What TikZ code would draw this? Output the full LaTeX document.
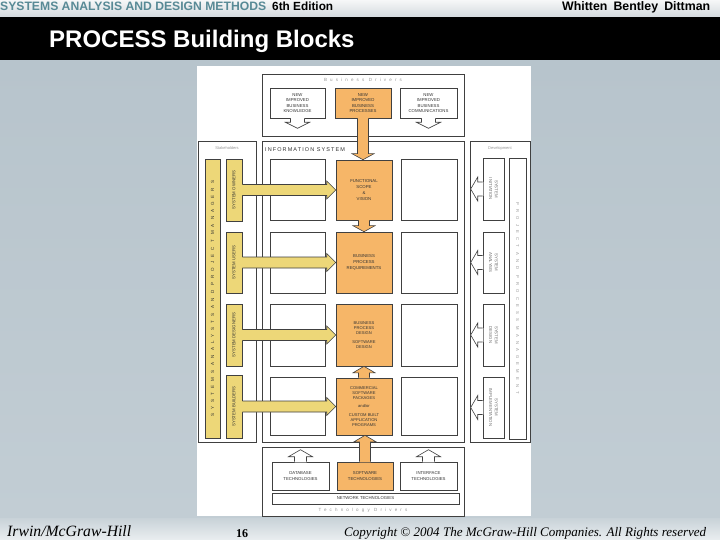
\documentclass[tikz,border=0pt]{standalone}
\usepackage{fontspec}
\setmainfont{Liberation Sans}
\newfontfamily\serifi{Liberation Serif}
\newfontfamily\widefont[LetterSpace=90]{Liberation Sans}
\newfontfamily\devfont[LetterSpace=100]{Liberation Sans}
\newfontfamily\isfont[LetterSpace=20]{Liberation Sans}
\newfontfamily\labfont[LetterSpace=70]{Liberation Sans}
\usetikzlibrary{calc,fit}
\definecolor{slidebg}{RGB}{183,196,204}
\definecolor{slidebot}{RGB}{194,205,212}
\definecolor{foottop}{RGB}{200,210,216}
\definecolor{footbot}{RGB}{234,238,240}
\definecolor{hdrtop}{RGB}{246,247,248}
\definecolor{hdrbot}{RGB}{212,218,222}
\definecolor{hdrteal}{RGB}{88,138,150}
\definecolor{orangebox}{RGB}{246,182,104}
\definecolor{yellowbox}{RGB}{237,215,120}
\definecolor{lineg}{RGB}{64,64,64}
\definecolor{darktxt}{RGB}{50,50,50}
\definecolor{greytxt}{RGB}{110,110,110}
\definecolor{lighttxt}{RGB}{150,150,150}

% yellow block arrow from node #1 (east) to node #2 (west)
\newcommand\yarrow[2]{%
  \coordinate (ya) at (#1.east);
  \coordinate (yt) at (#2.west |- #1.east);
  \fill[yellowbox] ($(ya)+(-0.6,-5.5)$) -- ($(yt)+(-9,-5.5)$) -- ($(yt)+(-9,-9)$) -- (yt)
     -- ($(yt)+(-9,9)$) -- ($(yt)+(-9,5.5)$) -- ($(ya)+(-0.6,5.5)$) -- cycle;
  \draw[outl] (ya)+(0,-5.5) -- ($(yt)+(-9,-5.5)$) -- ($(yt)+(-9,-9)$) -- (yt)
     -- ($(yt)+(-9,9)$) -- ($(yt)+(-9,5.5)$) -- ($(ya)+(0,5.5)$);}
% orange block arrow downwards from point #1 to tip #2
\newcommand\odown[2]{%
  \fill[orangebox] ($(#1)+(-5.5,-0.6)$) -- ($(#2)+(-5.5,-6)$) -- ($(#2)+(-11,-6)$) -- (#2)
     -- ($(#2)+(11,-6)$) -- ($(#2)+(5.5,-6)$) -- ($(#1)+(5.5,-0.6)$) -- cycle;
  \draw[outl] (#1)+(-5.5,0) -- ($(#2)+(-5.5,-6)$) -- ($(#2)+(-11,-6)$) -- (#2)
     -- ($(#2)+(11,-6)$) -- ($(#2)+(5.5,-6)$) -- ($(#1)+(5.5,0)$);}
% orange block arrow upwards from point #1 to tip #2
\newcommand\oup[2]{%
  \fill[orangebox] ($(#1)+(-5.5,0.6)$) -- ($(#2)+(-5.5,6.5)$) -- ($(#2)+(-11,6.5)$) -- (#2)
     -- ($(#2)+(11,6.5)$) -- ($(#2)+(5.5,6.5)$) -- ($(#1)+(5.5,0.6)$) -- cycle;
  \draw[outl] (#1)+(-5.5,0) -- ($(#2)+(-5.5,6.5)$) -- ($(#2)+(-11,6.5)$) -- (#2)
     -- ($(#2)+(11,6.5)$) -- ($(#2)+(5.5,6.5)$) -- ($(#1)+(5.5,0)$);}
% hollow arrows
\newcommand\hdown[1]{%
  \fill[white] ($(#1)+(-7,-0.6)$) -- ($(#1)+(-7,4)$) -- ($(#1)+(-12,4)$) -- ($(#1)+(0,10)$)
     -- ($(#1)+(12,4)$) -- ($(#1)+(7,4)$) -- ($(#1)+(7,-0.6)$) -- cycle;
  \draw[outl] (#1)+(-7,0) -- ($(#1)+(-7,4)$) -- ($(#1)+(-12,4)$) -- ($(#1)+(0,10)$)
     -- ($(#1)+(12,4)$) -- ($(#1)+(7,4)$) -- ($(#1)+(7,0)$);}
\newcommand\hup[1]{%
  \fill[white] ($(#1)+(-6,0.6)$) -- ($(#1)+(-6,-5)$) -- ($(#1)+(-12,-5)$) -- ($(#1)+(0,-12)$)
     -- ($(#1)+(12,-5)$) -- ($(#1)+(6,-5)$) -- ($(#1)+(6,0.6)$) -- cycle;
  \draw[outl] (#1)+(-6,0) -- ($(#1)+(-6,-5)$) -- ($(#1)+(-12,-5)$) -- ($(#1)+(0,-12)$)
     -- ($(#1)+(12,-5)$) -- ($(#1)+(6,-5)$) -- ($(#1)+(6,0)$);}
\newcommand\hleft[1]{%
  \fill[white] ($(#1)+(0.6,-7)$) -- ($(#1)+(-5,-7)$) -- ($(#1)+(-5,-12)$) -- ($(#1)+(-12,0)$)
     -- ($(#1)+(-5,12)$) -- ($(#1)+(-5,7)$) -- ($(#1)+(0.6,7)$) -- cycle;
  \draw[outl] (#1)+(0,-7) -- ($(#1)+(-5,-7)$) -- ($(#1)+(-5,-12)$) -- ($(#1)+(-12,0)$)
     -- ($(#1)+(-5,12)$) -- ($(#1)+(-5,7)$) -- ($(#1)+(0,7)$);}

\begin{document}
\begin{tikzpicture}[x=1pt,y=-1pt,
  outl/.style={draw=lineg,line width=0.6pt},
  wbox/.style={outl,fill=white,inner sep=0pt},
  obox/.style={wbox,fill=orangebox},
  ybox/.style={wbox,fill=yellowbox},
  intext/.style={font=\fontsize{4.3}{5.6}\selectfont,text=darktxt,align=center,inner sep=0pt},
  devtext/.style={intext,text=greytxt},
  lab/.style={font=\fontsize{4}{5}\selectfont,text=lighttxt,inner sep=0pt},
  spacedlab/.style={font={\labfont\fontsize{4.5}{5}\selectfont},text=lighttxt,inner sep=0pt}
]
\useasboundingbox (0,0) rectangle (720,540);
% slide background
\shade[top color=slidebg,bottom color=slidebot] (0,60) rectangle (720,518);
\shade[top color=foottop,bottom color=footbot] (0,518) rectangle (720,540);
\shade[top color=hdrtop,bottom color=hdrbot] (0,0) rectangle (720,17);
\fill[black] (0,17) rectangle (720,60);
% header texts
\node[anchor=base west,inner sep=0,text=hdrteal] (h1) at (0,11)
  {\resizebox{266pt}{!}{\bfseries SYSTEMS ANALYSIS AND DESIGN METHODS}};
\node[anchor=base west,inner sep=0] (h2) at (272,11) {\resizebox{61pt}{!}{\bfseries 6th Edition}};
\node[anchor=base west,inner sep=0] (h3) at (562,11) {\resizebox{148pt}{!}{\bfseries Whitten\enspace Bentley\enspace Dittman}};
\node[anchor=base west,inner sep=0,text=white,font=\bfseries\fontsize{24}{24}\selectfont] (title) at (49,48) {PROCESS Building Blocks};
% footer
\node[anchor=base west,inner sep=0] (f1) at (7,536) {\resizebox{124pt}{!}{\serifi\itshape Irwin/McGraw-Hill}};
\node[anchor=base west,inner sep=0] (f2) at (236,537) {\resizebox{12pt}{!}{\serifi\bfseries 16}};
\node[anchor=base west,inner sep=0] (f3) at (344,536) {\resizebox{362pt}{!}{\serifi\itshape Copyright \textcopyright{} 2004 The McGraw-Hill Companies. All Rights reserved}};

% figure panel
\fill[white] (197,66) rectangle (531,516);

% business drivers
\node[wbox,fit={(262,74) (464,136)}] (bd) {};
\node[spacedlab] (bdl) at (363,80) {Business Drivers};
\node[wbox,fit={(270,88) (325,118)}] (tk) {};
\node[intext] (tkt) at (tk) {NEW\\IMPROVED\\BUSINESS\\KNOWLEDGE};
\node[obox,fit={(335,88) (391,118)}] (tp) {};
\node[intext] (tpt) at (tp) {NEW\\IMPROVED\\BUSINESS\\PROCESSES};
\node[wbox,fit={(400,88) (457,118)}] (tc) {};
\node[intext] (tct) at (tc) {NEW\\IMPROVED\\BUSINESS\\COMMUNICATIONS};
\hdown{tk.south}
\hdown{tc.south}

% stakeholders
\node[wbox,fit={(198,141) (256,442)}] (sh) {};
\node[lab] (shl) at (227,148) {Stakeholders};
\node[ybox,fit={(205,159) (220,438)}] (sa) {};
\node[rotate=90,inner sep=0,text=darktxt,font={\widefont\fontsize{4.5}{5}\selectfont}] (sat) at (sa) {SYSTEMS ANALYSTS AND PROJECT MANAGERS};
\node[ybox,fit={(226,159) (242,221)}] (y1) {};
\node[ybox,fit={(226,232) (242,293)}] (y2) {};
\node[ybox,fit={(226,304) (242,366)}] (y3) {};
\node[ybox,fit={(226,375) (242,438)}] (y4) {};
\node[intext,rotate=90] (y1t) at (y1) {SYSTEM OWNERS};
\node[intext,rotate=90] (y2t) at (y2) {SYSTEM USERS};
\node[intext,rotate=90] (y3t) at (y3) {SYSTEM DESIGNERS};
\node[intext,rotate=90] (y4t) at (y4) {SYSTEM BUILDERS};

% information system
\node[wbox,fit={(262,141) (464,442)}] (is) {};
\node[anchor=west,inner sep=0,text=darktxt,font={\isfont\fontsize{5.5}{6}\selectfont}] (isl) at (265,150) {INFORMATION SYSTEM};
\node[wbox,fit={(270,159) (325,220)}] (l1) {};
\node[wbox,fit={(270,232) (325,293)}] (l2) {};
\node[wbox,fit={(270,304) (325,366)}] (l3) {};
\node[wbox,fit={(270,377) (325,435)}] (l4) {};
\node[obox,fit={(336,160) (392,220)}] (o1) {};
\node[obox,fit={(336,232) (392,293)}] (o2) {};
\node[obox,fit={(336,304) (392,366)}] (o3) {};
\node[obox,fit={(336,378) (392,435)}] (o4) {};
\node[wbox,fit={(401,159) (457,220)}] (r1) {};
\node[wbox,fit={(401,232) (457,293)}] (r2) {};
\node[wbox,fit={(401,304) (457,366)}] (r3) {};
\node[wbox,fit={(401,377) (457,435)}] (r4) {};
\node[intext,font=\fontsize{4.3}{6}\selectfont] (o1t) at (o1) {FUNCTIONAL\\SCOPE\\\&\\VISION};
\node[intext] (o2t) at (o2) {BUSINESS\\PROCESS\\REQUIREMENTS};
\node[intext,font=\fontsize{4.1}{4.8}\selectfont] (o3t) at (o3) {BUSINESS\\PROCESS\\DESIGN\\[4pt]SOFTWARE\\DESIGN};
\node[intext,font=\fontsize{4.1}{5.2}\selectfont] (o4t) at (o4) {COMMERCIAL\\SOFTWARE\\PACKAGES\\[3pt]and/or\\[3pt]CUSTOM BUILT\\APPLICATION\\PROGRAMS};

% development
\node[wbox,fit={(470,141) (530,442)}] (dv) {};
\node[lab] (dvl) at (500,148) {Development};
\node[wbox,fit={(509,158) (526,439)}] (pm) {};
\node[rotate=-90,inner sep=0,text=lighttxt,font={\devfont\fontsize{4.2}{5}\selectfont}] (pmt) at (pm) {PROJECT AND PROCESS MANAGEMENT};
\node[wbox,fit={(483,158) (504,220)}] (d1) {};
\node[wbox,fit={(483,232) (504,293)}] (d2) {};
\node[wbox,fit={(483,304) (504,366)}] (d3) {};
\node[wbox,fit={(483,377) (504,438)}] (d4) {};
\node[devtext,rotate=-90] (d1t) at (d1) {SYSTEM\\INITIATION};
\node[devtext,rotate=-90] (d2t) at (d2) {SYSTEM\\ANALYSIS};
\node[devtext,rotate=-90] (d3t) at (d3) {SYSTEM\\DESIGN};
\node[devtext,rotate=-90] (d4t) at (d4) {SYSTEM\\IMPLEMENTATION};
\hleft{d1.west}
\hleft{d2.west}
\hleft{d3.west}
\hleft{d4.west}

% technology drivers
\node[wbox,fit={(262,447) (464,516)}] (td) {};
\node[spacedlab] (tdl) at (363,510) {Technology Drivers};
\node[wbox,fit={(272,462) (329,490)}] (db) {};
\node[obox,fit={(337,462) (393,490)}] (st) {};
\node[wbox,fit={(400,462) (457,490)}] (it) {};
\node[wbox,fit={(272,493) (459,504)}] (nt) {};
\node[intext] (dbt) at (db) {DATABASE\\TECHNOLOGIES};
\node[intext] (stt) at (st) {SOFTWARE\\TECHNOLOGIES};
\node[intext] (itt) at (it) {INTERFACE\\TECHNOLOGIES};
\node[intext] (ntt) at (nt) {NETWORK TECHNOLOGIES};
\hup{db.north}
\hup{it.north}

% yellow arrows
\yarrow{y1}{o1}
\yarrow{y2}{o2}
\yarrow{y3}{o3}
\yarrow{y4}{o4}

% orange arrows
\coordinate (c1) at (tp.south |- o1.north);
\odown{tp.south}{c1}
\coordinate (c2) at (o1.south |- o2.north);
\odown{o1.south}{c2}
\coordinate (c3) at (o4.north |- o3.south);
\oup{o4.north}{c3}
\coordinate (c4) at (st.north |- o4.south);
\oup{st.north}{c4}
\end{tikzpicture}
\end{document}
